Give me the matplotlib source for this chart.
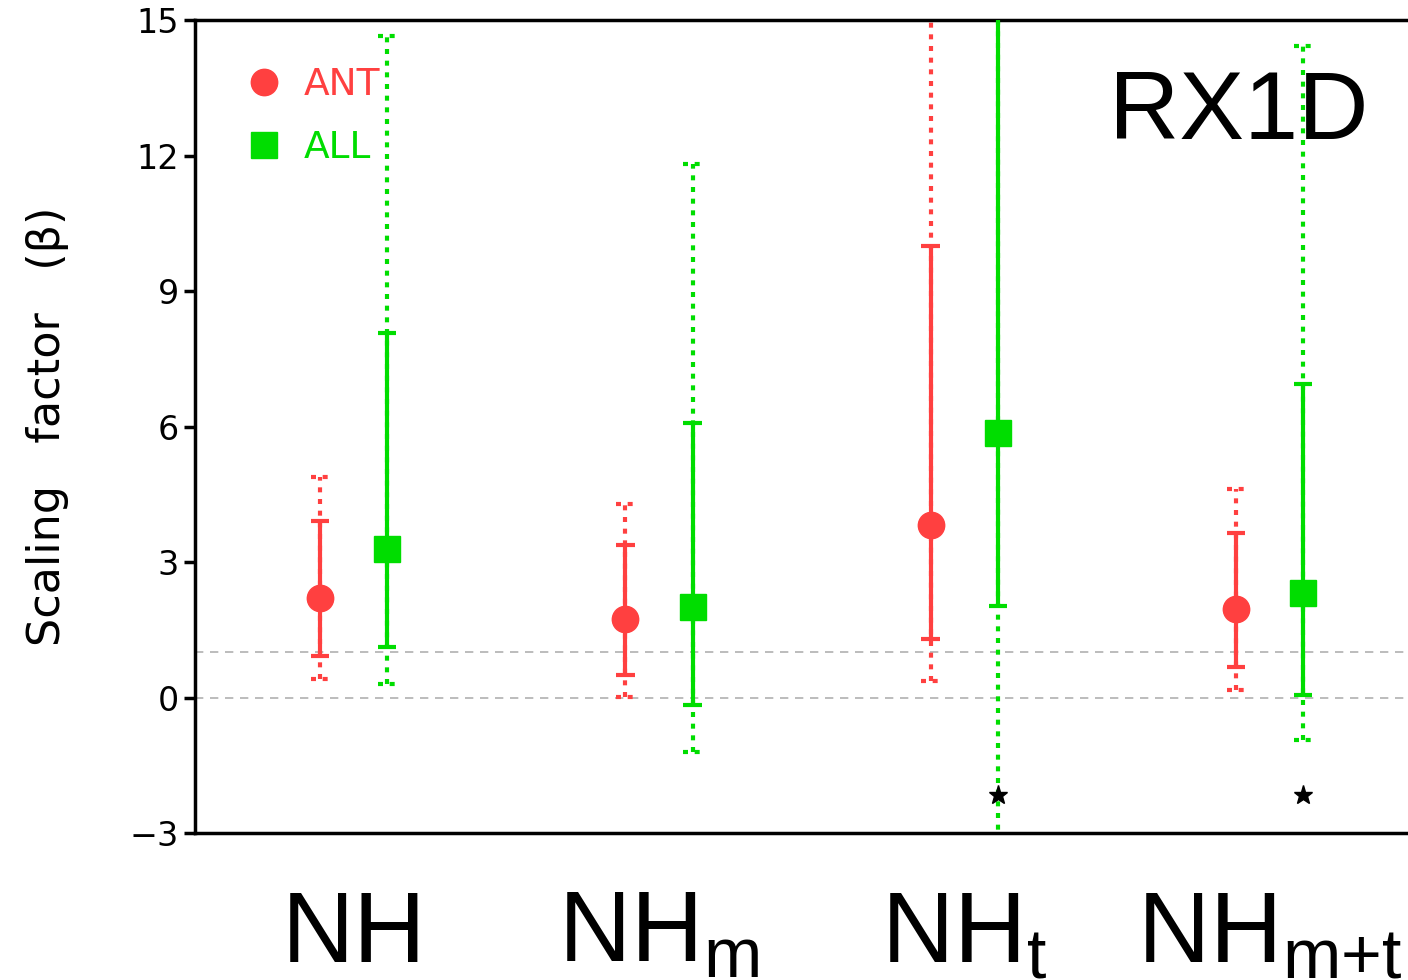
import numpy as np
import matplotlib
matplotlib.use("Agg")
from matplotlib import pyplot as plt

plt.rcParams['font.family'] = ['DejaVu Sans']
plt.rcParams['mathtext.fontset'] = 'custom'
plt.rcParams['mathtext.rm'] = 'Liberation Sans'

# data
groups = ["NH", "NH$_\\mathrm{m}$", "NH$_\\mathrm{t}$", "NH$_\\mathrm{m{+}t}$"]
ant_best = [2.20, 1.74, 3.82, 1.96]
ant_lo90 = [0.92, 0.50, 1.29, 0.67]
ant_hi90 = [3.91, 3.38, 10.0, 3.64]
ant_lo95 = [0.41, 0.01, 0.37, 0.17]
ant_hi95 = [4.88, 4.28, 16.0, 4.62]

all_best = [3.29, 2.00, 5.86, 2.31]
all_lo90 = [1.12, -0.17, 2.03, 0.06]
all_hi90 = [8.07, 6.08, 17.0, 6.94]
all_lo95 = [0.30, -1.21, -5.0, -0.94]
all_hi95 = [14.64, 11.81, 18.0, 14.42]

star_x = [3, 4]
star_y = [-2.15, -2.15]

red = '#ff4040'
green = '#00dd00'

fig = plt.figure(figsize=(14.08, 9.8), dpi=100)
ax = fig.add_axes([195/1408, 1-833/980, (1422-195)/1408, (833-20)/980])

x = np.arange(1, 5)
off = 0.11

def draw(xs, best, lo90, hi90, lo95, hi95, col, mk, lab):
    # 95% range, dotted
    ax.vlines(xs, lo95, hi95, color=col, lw=3, linestyles=(0, (1.2, 1.6)), zorder=2)
    ax.hlines(lo95, xs-0.03, xs+0.03, color=col, lw=3, linestyles=(0, (1.2, 1.6)), zorder=2)
    ax.hlines(hi95, xs-0.03, xs+0.03, color=col, lw=3, linestyles=(0, (1.2, 1.6)), zorder=2)
    # 90% range, solid
    ax.vlines(xs, lo90, hi90, color=col, lw=3, zorder=3)
    ax.hlines(lo90, xs-0.03, xs+0.03, color=col, lw=3, zorder=3)
    ax.hlines(hi90, xs-0.03, xs+0.03, color=col, lw=3, zorder=3)
    ax.plot(xs, best, ls='none', marker=mk, ms=19, color=col, zorder=4, label=lab)

draw(x-off, ant_best, ant_lo90, ant_hi90, ant_lo95, ant_hi95, red, 'o', 'ANT')
draw(x+off, all_best, all_lo90, all_hi90, all_lo95, all_hi95, green, 's', 'ALL')

ax.plot(np.array(star_x)+off, star_y, ls='none', marker='*', ms=14, color='black', zorder=5)

ax.axhline(0, color='#b0b0b0', lw=1.2, ls=(0, (5, 4)), zorder=1)
ax.axhline(1, color='#b0b0b0', lw=1.2, ls=(0, (5, 4)), zorder=1)

ax.set_ylim(-3, 15)
ax.set_xlim(0.48, 4.5)
ax.set_yticks([-3, 0, 3, 6, 9, 12, 15])
ax.set_yticklabels(['\u22123', '0', '3', '6', '9', '12', '15'])
ax.tick_params(axis='y', labelsize=24, width=2.5, length=8, direction='out')
ax.set_xticks(x)
ax.set_xticklabels(groups, fontsize=72, family='Liberation Sans')
ax.tick_params(axis='x', length=0, pad=40)
for s in ax.spines.values():
    s.set_linewidth(2.5)

ax.set_ylabel('Scaling   factor   (β)', fontsize=32, labelpad=44)

ax.text(0.956, 0.94, 'RX1D', transform=ax.transAxes, ha='right', va='top',
        fontsize=70, family='Liberation Sans')

leg = ax.legend(loc='upper left', frameon=False, fontsize=27, markerscale=1.0,
                handlelength=1.0, handletextpad=0.55, labelspacing=0.72,
                borderpad=0, borderaxespad=0, bbox_to_anchor=(0.041, 0.942))
for t, c in zip(leg.get_texts(), [red, green]):
    t.set_color(c)

plt.savefig('out.png', dpi=100)
